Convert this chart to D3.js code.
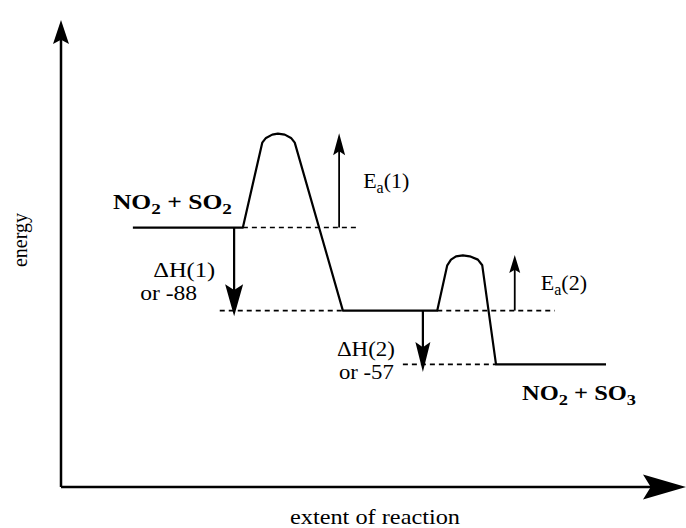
<!DOCTYPE html>
<html>
<head>
<meta charset="utf-8">
<script src="https://cdn.jsdelivr.net/npm/d3@7"></script>
<style>
body { margin: 0; background: #fff; }
text { font-family: "Liberation Serif", "Times New Roman", serif; fill: #000; }
</style>
</head>
<body>
<svg id="chart" width="686" height="528"></svg>
<script>
// energy profile: reaction coordinate (arbitrary units) and energy (kJ)
var profileX = [11.5, 29.1, 32.2, 32.8, 33.8, 34.7, 35.8, 36.8, 37.4, 45.1, 60.2, 61.8, 62.4, 63.2, 64.3, 65.4, 66.7, 67.4, 69.6, 87.2];
var profileE = [0, 0, 90, 95, 98.5, 99.5, 98.5, 95, 90, -88, -88, -40, -34, -30.5, -29.5, -30.5, -34, -40, -145, -145];

// dashed reference levels
var guideE    = [0, -88, -88, -145];
var guideFrom = [29.1, 25.4, 60.2, 54.7];
var guideTo   = [47.4, 45.1, 79.0, 69.6];

// annotation arrows
var arrowNames = ["Ea1", "Ea2", "dH1", "dH2"];
var arrowX     = [44.5, 72.6, 27.7, 57.9];
var arrowFrom  = [0, -88, 0, -88];
var arrowTo    = [100, -29, -94, -153];

var axisLabels = ["extent of reaction", "energy"];
var speciesStart = ["NO", "2", " + SO", "2"];
var speciesEnd   = ["NO", "2", " + SO", "3"];
var dhLabels = ["\u0394H(1)", "or -88", "\u0394H(2)", "or -57"];

var svg = d3.select("#chart");
var x = d3.scaleLinear().domain([0, 100]).range([61, 686]);
var y = d3.scaleLinear().domain([-275, 220]).range([487, 20]);

// arrow head sizes [length, width]
var headSize = { Ea1: [22, 12], Ea2: [18, 11], dH1: [32, 18], dH2: [30, 15], yAxis: [24, 16], xAxis: [43, 25] };

function arrowHead(tipX, tipY, angle, size) // notched filled head
{
    var L = size[0], W = size[1];
    var p = d3.path();
    p.moveTo(0, 0);
    p.lineTo(-L, -W / 2);
    p.lineTo(-L * 0.82, 0);
    p.lineTo(-L, W / 2);
    p.closePath();
    svg.append("path")
        .attr("d", p.toString())
        .attr("transform", "translate(" + tipX + "," + tipY + ") rotate(" + angle + ")")
        .style("fill", "#000");
}

// axes
svg.append("line")
    .attr("x1", x(0)).attr("x2", x(0))
    .attr("y1", y(-275)).attr("y2", y(214))
    .style("stroke", "#000").style("stroke-width", 2.5);
arrowHead(x(0), y(220), -90, headSize.yAxis);
svg.append("line")
    .attr("x1", x(0)).attr("x2", x(96))
    .attr("y1", y(-275)).attr("y2", y(-275))
    .style("stroke", "#000").style("stroke-width", 2.5);
arrowHead(x(100), y(-275), 0, headSize.xAxis);

// dashed levels
guideE.forEach(function(e, i) {
    svg.append("line")
        .attr("x1", x(guideFrom[i])).attr("x2", x(guideTo[i]))
        .attr("y1", y(e)).attr("y2", y(e))
        .style("stroke", "#000")
        .style("stroke-width", 1.6)
        .style("stroke-dasharray", "5,4");
});

// profile
var pts = profileX.map(function(d, i) { return [x(d), y(profileE[i])]; });
svg.append("path")
    .attr("d", d3.line().curve(d3.curveLinear)(pts))
    .style("fill", "none")
    .style("stroke", "#000")
    .style("stroke-width", 2.2)
    .style("stroke-linejoin", "round");

// arrows
arrowNames.forEach(function(n, i) {
    var up = arrowTo[i] > arrowFrom[i];
    var L = headSize[n][0];
    var tipY = y(arrowTo[i]);
    svg.append("line")
        .attr("x1", x(arrowX[i])).attr("x2", x(arrowX[i]))
        .attr("y1", y(arrowFrom[i]))
        .attr("y2", up ? tipY + L * 0.7 : tipY - L * 0.7)
        .style("stroke", "#000").style("stroke-width", up ? 1.8 : 2.2);
    arrowHead(x(arrowX[i]), tipY, up ? -90 : 90, headSize[n]);
});

// text helpers
function chem(parts, px, py, size)
{
    var t = svg.append("text").attr("x", px).attr("y", py)
        .style("font-size", size + "px").style("font-weight", "bold");
    parts.forEach(function(s, i) {
        var sub = (i % 2 == 1);
        t.append("tspan")
            .attr("dy", sub ? 5 : (i > 0 ? -5 : 0))
            .style("font-size", sub ? (size * 0.75) + "px" : null)
            .text(s);
    });
    return t;
}
function ea(label, px, py)
{
    var t = svg.append("text").attr("x", px).attr("y", py).style("font-size", "22px");
    t.append("tspan").text("E");
    t.append("tspan").attr("dy", 5).style("font-size", "16px").text("a");
    t.append("tspan").attr("dy", -5).text("(" + label + ")");
}
function plain(str, px, py, w)
{
    svg.append("text").attr("x", px).attr("y", py)
        .attr("textLength", w).attr("lengthAdjust", "spacingAndGlyphs")
        .style("font-size", "20px").text(str);
}

chem(speciesStart, x(11.5) - 20, y(0) - 19, 20).attr("textLength", 119).attr("lengthAdjust", "spacingAndGlyphs");
chem(speciesEnd, x(69.6) + 26, y(-145) + 36, 20).attr("textLength", 114).attr("lengthAdjust", "spacingAndGlyphs");

ea("1", x(44.5) + 24, y(0) - 40);
ea("2", x(72.6) + 26, y(-88) - 21);

plain(dhLabels[0], x(27.7) - 81, y(0) + 49, 62);
plain(dhLabels[1], x(27.7) - 94, y(0) + 72, 57);
plain(dhLabels[2], x(57.9) - 86, y(-88) + 45, 58);
plain(dhLabels[3], x(57.9) - 84, y(-88) + 68, 55);

svg.append("text").attr("x", 290).attr("y", 524)
    .attr("textLength", 170).attr("lengthAdjust", "spacingAndGlyphs")
    .style("font-size", "21px").text(axisLabels[0]);
svg.append("text")
    .attr("transform", "translate(27,240) rotate(-90)")
    .attr("text-anchor", "middle")
    .style("font-size", "20px").text(axisLabels[1]);
</script>
</body>
</html>
